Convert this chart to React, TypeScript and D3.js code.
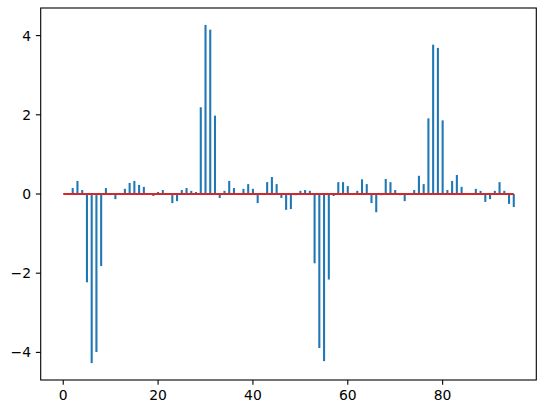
import React from "react";
import * as d3 from "d3";

const values: number[] = [
  0, 0, 0.15, 0.33, 0.1, -2.23, -4.27, -3.99, -1.82, 0.15,
  0, -0.13, 0, 0.13, 0.28, 0.33, 0.23, 0.18, 0, -0.05,
  0.05, 0.1, 0, -0.23, -0.18, 0.1, 0.15, 0.08, 0.05, 2.19,
  4.27, 4.15, 1.98, -0.1, 0.08, 0.33, 0.15, 0, 0.13, 0.25,
  0.13, -0.23, 0, 0.3, 0.43, 0.25, -0.1, -0.4, -0.38, -0.03,
  0.08, 0.1, 0.08, -1.75, -3.89, -4.22, -2.16, -0.05, 0.3, 0.3,
  0.2, 0, 0.08, 0.37, 0.25, -0.23, -0.46, -0.03, 0.38, 0.3,
  0.1, -0.03, -0.18, 0, 0.1, 0.46, 0.25, 1.91, 3.77, 3.69,
  1.86, 0.1, 0.33, 0.48, 0.18, 0, 0, 0.13, 0.08, -0.2,
  -0.13, 0.08, 0.3, 0.08, -0.25, -0.33,
];
const xTicks: number[] = [0, 20, 40, 60, 80];
const yTicks: number[] = [-4, -2, 0, 2, 4];

const W = 546;
const H = 413;
const L = 40.7;
const R = 536.3;
const T = 8;
const B = 380;

export default function App() {
  const n = values.length;
  const xMin = 0, xMax = n - 1;
  const xPad = (xMax - xMin) * 0.05;
  const x = d3.scaleLinear().domain([xMin - xPad, xMax + xPad]).range([L, R]);
  const yLo = Math.min(0, d3.min(values) as number);
  const yHi = Math.max(0, d3.max(values) as number);
  const yPad = (yHi - yLo) * 0.05;
  const y = d3.scaleLinear().domain([yLo - yPad, yHi + yPad]).range([B, T]);
  const font = "'DejaVu Sans', sans-serif";
  return (
    <svg width={W} height={H} style={{ position: "absolute", left: 0, top: 0 }}>
      <rect x={0} y={0} width={W} height={H} fill="#fff" />
      {values.map((v, i) => (
        <line key={i} x1={x(i)} x2={x(i)} y1={y(0)} y2={y(v)} stroke="#1f77b4" strokeWidth={2.08} />
      ))}
      <line x1={x(0)} x2={x(n - 1)} y1={y(0)} y2={y(0)} stroke="#d62728" strokeWidth={2.08} />
      <rect x={L} y={T} width={R - L} height={B - T} fill="none" stroke="#000" strokeWidth={1.1} />
      {xTicks.map((t) => (
        <g key={t}>
          <line x1={x(t)} x2={x(t)} y1={B} y2={B + 4.86} stroke="#000" strokeWidth={1.1} />
          <text x={x(t)} y={B + 9.7} dy="0.76em" textAnchor="middle" fontFamily={font} fontSize={13.9} fill="#000">{t}</text>
        </g>
      ))}
      {yTicks.map((t) => (
        <g key={t}>
          <line x1={L} x2={L - 4.86} y1={y(t)} y2={y(t)} stroke="#000" strokeWidth={1.1} />
          <text x={L - 9.7} y={y(t)} dy="0.36em" textAnchor="end" fontFamily={font} fontSize={13.9} fill="#000">{t < 0 ? "\u2212" + Math.abs(t) : String(t)}</text>
        </g>
      ))}
    </svg>
  );
}
